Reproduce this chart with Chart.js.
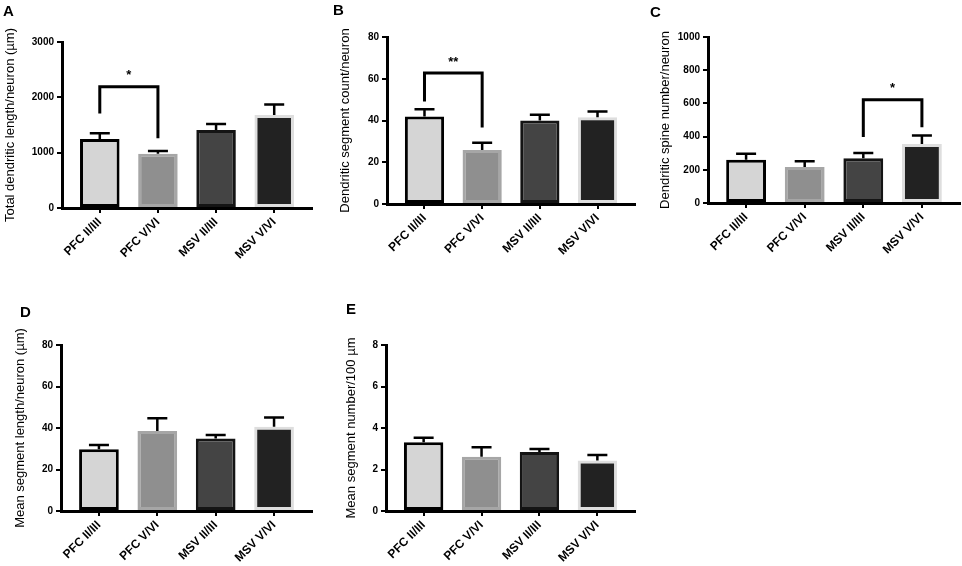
<!DOCTYPE html>
<html>
<head>
<meta charset="utf-8">
<script src="https://cdn.jsdelivr.net/npm/chart.js@4.4.1/dist/chart.umd.min.js"></script>
<style>
  body { margin: 0; background: #fff; }
  #fig { position: relative; width: 962px; height: 566px; font-family: "Liberation Sans", Arial, sans-serif; }
  .panel { position: absolute; }
  .letter { position: absolute; font-weight: bold; font-size: 15px; line-height: 15px; color: #000; }
</style>
</head>
<body>
<div id="fig">
  <div class="panel" style="left:0;top:0;width:320px;height:280px"><canvas id="chartA"></canvas></div>
  <div class="panel" style="left:320px;top:0;width:320px;height:280px"><canvas id="chartB"></canvas></div>
  <div class="panel" style="left:640px;top:0;width:322px;height:280px"><canvas id="chartC"></canvas></div>
  <div class="panel" style="left:0;top:280px;width:320px;height:286px"><canvas id="chartD"></canvas></div>
  <div class="panel" style="left:320px;top:280px;width:320px;height:286px"><canvas id="chartE"></canvas></div>
  <div class="letter" style="left:3px;top:3px">A</div>
  <div class="letter" style="left:333px;top:2px">B</div>
  <div class="letter" style="left:650px;top:4px">C</div>
  <div class="letter" style="left:20px;top:304px">D</div>
  <div class="letter" style="left:346px;top:301px">E</div>
</div>
<script>
const categories = ['PFC II/III', 'PFC V/VI', 'MSV II/III', 'MSV V/VI'];

// A - total dendritic length
const totalLength = [1245, 980, 1410, 1680];
const totalLengthSem = [105, 52, 108, 192];
// B - segment count
const segmentCount = [41.9, 25.9, 40.0, 41.6];
const segmentCountSem = [3.5, 3.5, 2.7, 2.7];
// C - spine number
const spineNumber = [261, 217, 269, 355];
const spineNumberSem = [36, 34, 32, 51];
// D - mean segment length
const segmentLength = [29.7, 38.6, 35.0, 40.6];
const segmentLengthSem = [2.1, 6.1, 1.6, 4.5];
// E - segments per 100 um
const segmentsPer100 = [3.31, 2.62, 2.84, 2.43];
const segmentsPer100Sem = [0.22, 0.45, 0.15, 0.27];

// significance brackets: [from, to, top, left leg end, right leg end]
const bracketA = [0, 1, 2190, 1710, 1260];
const bracketB = [0, 1, 62.7, 49.1, 36.6];
const bracketC = [2, 3, 622, 398, 456];

const barFills = ['#d5d5d5', '#8f8f8f', '#444444', '#222222'];
const barEdges = ['#000000', '#a6a6a6', '#141414', '#dedede'];

const FONT = '"Liberation Sans", Arial, sans-serif';

const errorBars = {
    id: 'errorBars',
    afterDatasetsDraw(chart, args, opts) {
        const { ctx, scales: { x, y } } = chart;
        const values = chart.data.datasets[0].data;
        ctx.save();
        ctx.strokeStyle = '#000';
        ctx.lineWidth = 2.5;
        values.forEach((pt, i) => {
            const px = x.getPixelForValue(pt.x);
            const y0 = y.getPixelForValue(pt.y);
            const y1 = y.getPixelForValue(pt.y + opts.sem[i]);
            ctx.beginPath();
            ctx.moveTo(px, y0);
            ctx.lineTo(px, y1);
            ctx.moveTo(px - 10, y1);
            ctx.lineTo(px + 10, y1);
            ctx.stroke();
        });
        if (opts.bracket) {
            const [a, b, top, leftEnd, rightEnd] = opts.bracket;
            const xa = x.getPixelForValue(a);
            const xb = x.getPixelForValue(b);
            const yt = y.getPixelForValue(top);
            ctx.lineWidth = 3;
            ctx.lineJoin = 'miter';
            ctx.beginPath();
            ctx.moveTo(xa, y.getPixelForValue(leftEnd));
            ctx.lineTo(xa, yt);
            ctx.lineTo(xb, yt);
            ctx.lineTo(xb, y.getPixelForValue(rightEnd));
            ctx.stroke();
            ctx.fillStyle = '#000';
            ctx.font = 'bold 13px ' + FONT;
            ctx.textAlign = 'center';
            ctx.textBaseline = 'middle';
            ctx.fillText(opts.mark, (xa + xb) / 2, yt - 11);
        }
        ctx.restore();
    }
};

function axisLook() {
    return {
        grid: { display: true, offset: false, drawOnChartArea: false, drawTicks: true, tickLength: 5, color: '#000', lineWidth: 2 },
        border: { display: true, color: '#000', width: 3 }
    };
}

function makePanel(id, values, sem, yMax, yStep, title, box, bracket, mark) {
    new Chart(document.getElementById(id), {
        type: 'bar',
        data: {
            datasets: [{
                data: values.map((v, i) => ({ x: i, y: v })),
                backgroundColor: barFills,
                borderColor: barEdges,
                borderWidth: 3,
                borderSkipped: false,
                barPercentage: 0.68,
                categoryPercentage: 1
            }]
        },
        options: {
            responsive: true,
            maintainAspectRatio: false,
            animation: false,
            layout: { padding: { left: box.padLeft, top: box.top, right: box.right, bottom: 0 } },
            plugins: {
                legend: { display: false },
                tooltip: { enabled: false },
                errorBars: { sem, bracket, mark }
            },
            scales: {
                x: {
                    type: 'linear',
                    offset: false,
                    min: -0.65,
                    max: 3.65,
                    afterBuildTicks: (s) => { s.ticks = categories.map((_, i) => ({ value: i })); },
                    afterFit: (s) => { s.height = box.xHeight; },
                    ticks: {
                        autoSkip: false,
                        minRotation: 45,
                        maxRotation: 45,
                        padding: 2,
                        color: '#000',
                        font: { family: FONT, size: 12, weight: 'bold' },
                        callback: (v) => categories[v]
                    },
                    ...axisLook()
                },
                y: {
                    min: 0,
                    max: yMax,
                    afterFit: (s) => { s.width = box.yWidth; },
                    ticks: {
                        stepSize: yStep,
                        padding: 3,
                        color: '#000',
                        font: { family: FONT, size: 10, weight: 'bold' },
                        callback: (v) => String(v)
                    },
                    title: {
                        display: true,
                        text: title,
                        color: '#000',
                        padding: 0,
                        font: { family: FONT, size: 13 }
                    },
                    ...axisLook()
                }
            }
        },
        plugins: [errorBars]
    });
}

makePanel('chartA', totalLength, totalLengthSem, 3000, 1000, 'Total dendritic length/neuron (\u00b5m)',
    { padLeft: 3, yWidth: 59, top: 42, right: 8, xHeight: 72 }, bracketA, '*');
makePanel('chartB', segmentCount, segmentCountSem, 80, 20, 'Dendritic segment count/neuron',
    { padLeft: 18, yWidth: 49, top: 37, right: 5, xHeight: 76 }, bracketB, '**');
makePanel('chartC', spineNumber, spineNumberSem, 1000, 200, 'Dendritic spine number/neuron',
    { padLeft: 18, yWidth: 50, top: 37, right: 2, xHeight: 77 }, bracketC, '*');
makePanel('chartD', segmentLength, segmentLengthSem, 80, 20, 'Mean segment length/neuron (\u00b5m)',
    { padLeft: 13, yWidth: 48, top: 65, right: 8, xHeight: 55 }, null, '');
makePanel('chartE', segmentsPer100, segmentsPer100Sem, 8, 2, 'Mean segment number/100 \u00b5m',
    { padLeft: 24, yWidth: 42, top: 65, right: 5, xHeight: 55 }, null, '');
</script>
</body>
</html>
